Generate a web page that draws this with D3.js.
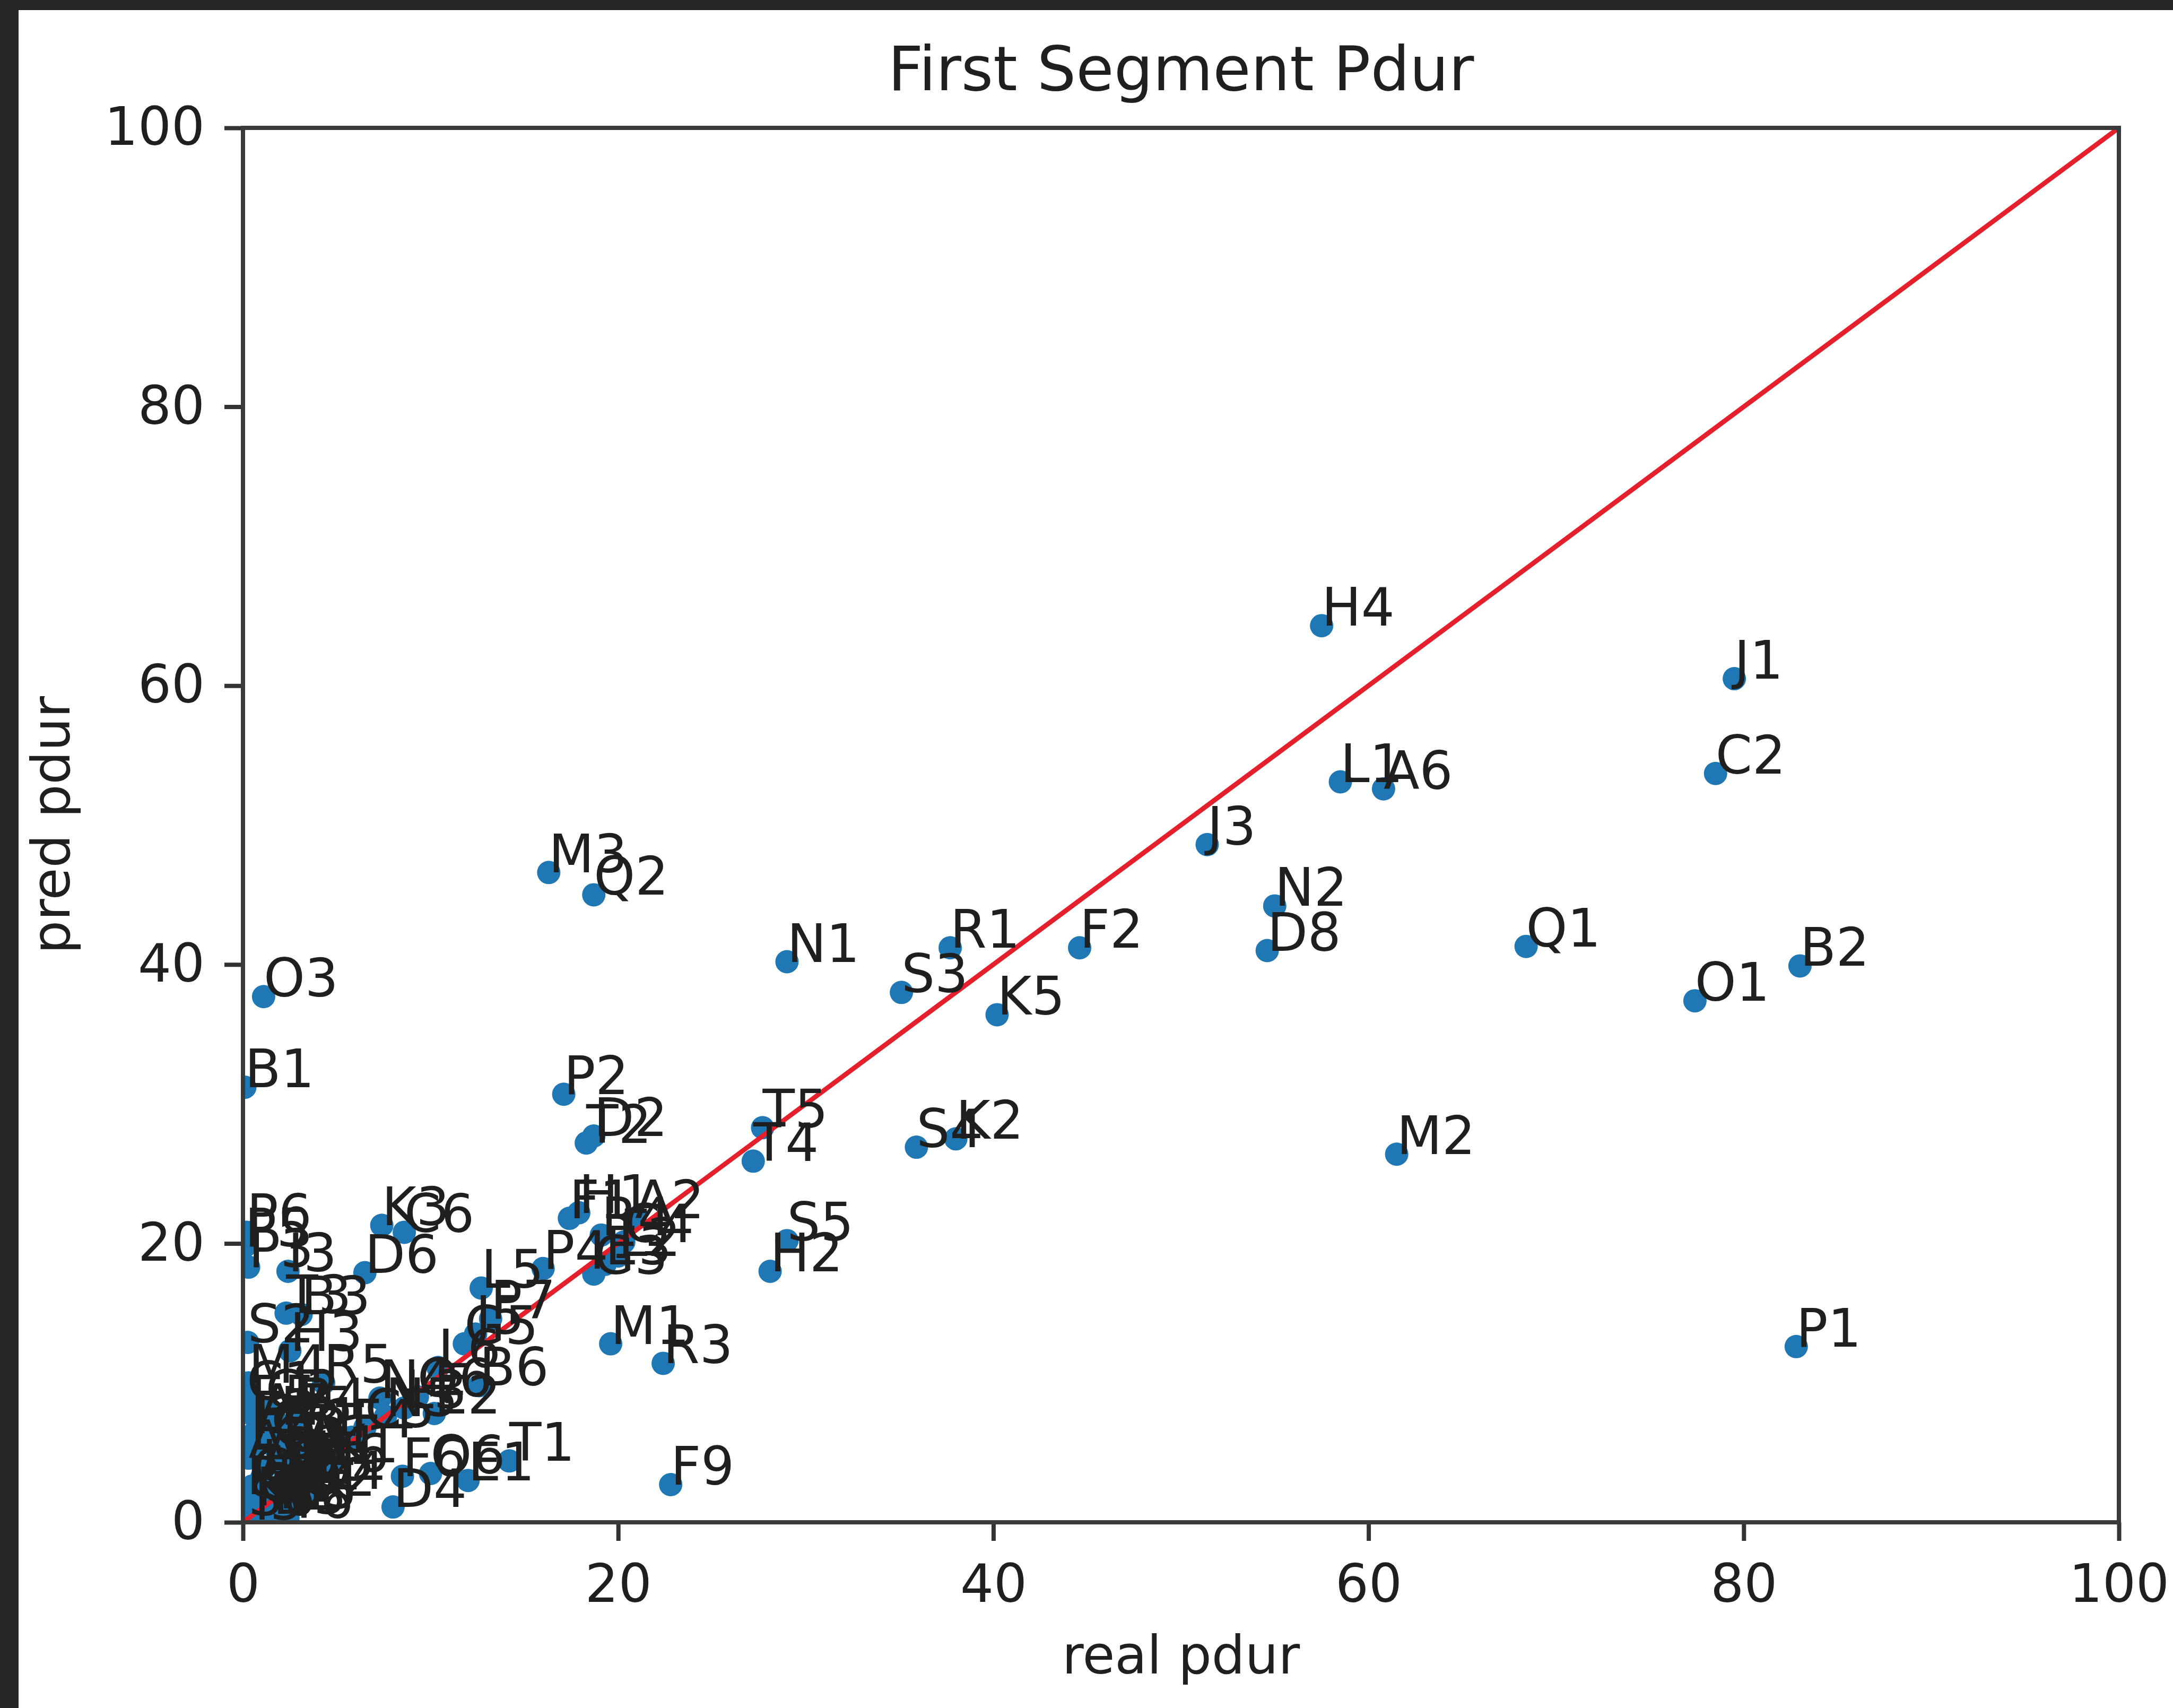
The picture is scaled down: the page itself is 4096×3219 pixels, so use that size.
<!DOCTYPE html>
<html>
<head>
<meta charset="utf-8">
<script src="https://cdn.jsdelivr.net/npm/d3@7"></script>
<style>
  html, body { margin: 0; padding: 0; background: #262626; }
  svg { display: block; }
</style>
</head>
<body>
<div id="chart"></div>
<script>
// point names and values
const labels = [
  "H4", "J1", "C2", "L1", "A6", "J3", "N2", "D8", "Q1", "B2", "O1", "M2", "P1",
  "M3", "Q2", "N1", "R1", "F2", "S3", "K5", "O3", "B1", "P2", "T2", "D2",
  "T5", "T4", "S4", "K2", "S5", "H2", "M1", "R3", "F9", "T1", "E1", "O6", "F6", "D4", "K1",
  "P6", "P5", "P3", "I3", "T3", "B3", "K3", "C6", "D6", "S2", "H3",
  "L5", "P4", "F1", "H1", "A2", "C4", "R4", "L2", "G3", "E3",
  "P7", "J5", "G5", "B6", "L6", "E2", "N4", "N5", "R5", "M4",
  "C1", "E5", "G2", "H5", "I2", "Q3", "S1", "A1", "A3", "A5", "D1", "D3",
  "G4", "J4", "K4", "O4", "Q4", "R2", "S6", "D5", "I5", "T6", "H6",
  "F4", "C5", "L3", "Q6",
  "A7", "B4", "C3", "E4", "F3", "G1", "H7", "J2", "K6", "M5", "O2", "R6"
];
const realPdur = [
  57.5, 79.5, 78.5, 58.5, 60.8, 51.4, 55.0, 54.6, 68.4, 83.0, 77.4, 61.5, 82.8,
  16.3, 18.7, 29.0, 37.7, 44.6, 35.1, 40.2, 1.1, 0.1, 17.1, 18.3, 18.7,
  27.7, 27.2, 35.9, 38.0, 29.0, 28.1, 19.6, 22.4, 22.8, 14.2, 12.0, 10.0, 8.5, 8.0, 4.7,
  0.2, 0.1, 0.3, 2.4, 2.3, 3.1, 7.4, 8.6, 6.5, 0.25, 2.5,
  12.7, 16.0, 17.4, 17.9, 20.9, 20.3, 19.1, 20.0, 18.7, 19.3,
  13.2, 12.4, 11.8, 12.6, 10.4, 10.2, 7.3, 7.6, 4.3, 0.3,
  0.2, 0.4, 1.2, 2.0, 0.6, 1.6, 2.7, 3.3, 0.3, 1.1, 2.2, 3.0,
  0.5, 1.8, 2.6, 0.8, 3.6, 1.4, 0.3, 1.6, 0.6, 2.4, 3.9,
  5.8, 6.5, 8.6, 9.3,
  0.9, 2.9, 1.5, 0.4, 2.1, 3.4, 1.0, 2.5, 0.7, 1.9, 3.1, 0.2
];
const predPdur = [
  64.3, 60.5, 53.7, 53.1, 52.6, 48.6, 44.2, 41.0, 41.3, 39.9, 37.4, 26.4, 12.6,
  46.6, 45.0, 40.2, 41.2, 41.2, 38.0, 36.4, 37.7, 31.2, 30.7, 27.2, 27.7,
  28.3, 25.9, 26.9, 27.5, 20.2, 18.0, 12.8, 11.4, 2.7, 4.4, 3.0, 3.5, 3.3, 1.1, 4.3,
  20.8, 19.8, 18.3, 18.0, 15.0, 14.9, 21.3, 20.8, 17.9, 12.9, 12.3,
  16.8, 18.2, 21.8, 22.2, 21.8, 20.1, 20.6, 19.1, 17.8, 18.5,
  14.6, 13.5, 12.8, 9.8, 11.1, 7.8, 8.9, 7.6, 10.0, 10.0,
  8.8, 7.8, 8.2, 7.0, 6.4, 5.5, 6.2, 5.0, 4.6, 3.8, 4.1, 3.0,
  2.6, 2.2, 1.7, 1.5, 2.4, 0.9, 0.5, 0.6, 0.2, 0.3, 3.6,
  6.1, 6.8, 8.2, 9.0,
  7.2, 7.6, 6.0, 5.2, 4.8, 4.2, 3.2, 2.8, 1.2, 1.0, 1.9, 2.0
];
const xTicks = [0, 20, 40, 60, 80, 100];
const yTicks = [0, 20, 40, 60, 80, 100];
const idealLine = [0, 100];

const width = 4096, height = 3219;
const margin = {left: 458, right: 4096 - 3994, top: 241, bottom: 3219 - 2869};
const plotW = width - margin.left - margin.right;
const plotH = height - margin.top - margin.bottom;
const font = "DejaVu Sans";
const ink = "#1f1f1f";

let svg = d3.select("#chart")
    .append("svg")
    .attr("width", width)
    .attr("height", height);

// white figure on dark screenshot frame
svg.append("rect")
    .attr("x", 35).attr("y", 19)
    .attr("width", width - 35).attr("height", height - 19)
    .attr("fill", "#ffffff");

let g = svg.append("g")
    .attr("transform", `translate(${margin.left}, ${margin.top})`);

let x = d3.scaleLinear().domain([0, 100]).range([0, plotW]);
let y = d3.scaleLinear().domain([0, 100]).range([plotH, 0]);

g.append("clipPath").attr("id", "plotclip")
    .append("rect").attr("width", plotW).attr("height", plotH);

let points = labels.map((d, i) => ({name: d, real: realPdur[i], pred: predPdur[i]}));

// dots
g.append("g")
    .attr("clip-path", "url(#plotclip)")
    .selectAll("circle")
    .data(points)
    .enter()
    .append("circle")
    .attr("cx", d => x(d.real))
    .attr("cy", d => y(d.pred))
    .attr("r", 22)
    .attr("fill", "#1f77b4");

// y = x reference line
g.append("line")
    .attr("clip-path", "url(#plotclip)")
    .attr("x1", x(idealLine[0])).attr("y1", y(idealLine[0]))
    .attr("x2", x(idealLine[1])).attr("y2", y(idealLine[1]))
    .attr("stroke", "#e3202c")
    .attr("stroke-width", 9);

// axes
let xAxis = g.append("g")
    .attr("transform", `translate(0, ${plotH})`)
    .call(d3.axisBottom(x).tickValues(xTicks).tickSize(35).tickPadding(45));
let yAxis = g.append("g")
    .call(d3.axisLeft(y).tickValues(yTicks).tickSize(35).tickPadding(37));

[xAxis, yAxis].forEach(a => {
    a.select(".domain").remove();
    a.selectAll(".tick line").attr("stroke", "#333").attr("stroke-width", 8);
    a.selectAll(".tick text")
        .attr("fill", ink)
        .style("font-family", font)
        .style("font-size", "99px");
});

// frame (spines)
g.append("rect")
    .attr("width", plotW).attr("height", plotH)
    .attr("fill", "none")
    .attr("stroke", "#3a3a3a")
    .attr("stroke-width", 8);

// point labels
g.append("g")
    .selectAll("text")
    .data(points)
    .enter()
    .append("text")
    .attr("x", d => x(d.real))
    .attr("y", d => y(d.pred))
    .style("font-family", font)
    .style("font-size", "99px")
    .attr("fill", ink)
    .text(d => d.name);

// titles
svg.append("text")
    .attr("x", margin.left + plotW / 2)
    .attr("y", 170)
    .attr("text-anchor", "middle")
    .style("font-family", font)
    .style("font-size", "116px")
    .attr("fill", ink)
    .text("First Segment Pdur");

svg.append("text")
    .attr("x", margin.left + plotW / 2)
    .attr("y", 3154)
    .attr("text-anchor", "middle")
    .style("font-family", font)
    .style("font-size", "99px")
    .attr("fill", ink)
    .text("real pdur");

svg.append("text")
    .attr("transform", `translate(131, ${margin.top + plotH / 2}) rotate(-90)`)
    .attr("text-anchor", "middle")
    .style("font-family", font)
    .style("font-size", "99px")
    .attr("fill", ink)
    .text("pred pdur");
</script>
</body>
</html>
